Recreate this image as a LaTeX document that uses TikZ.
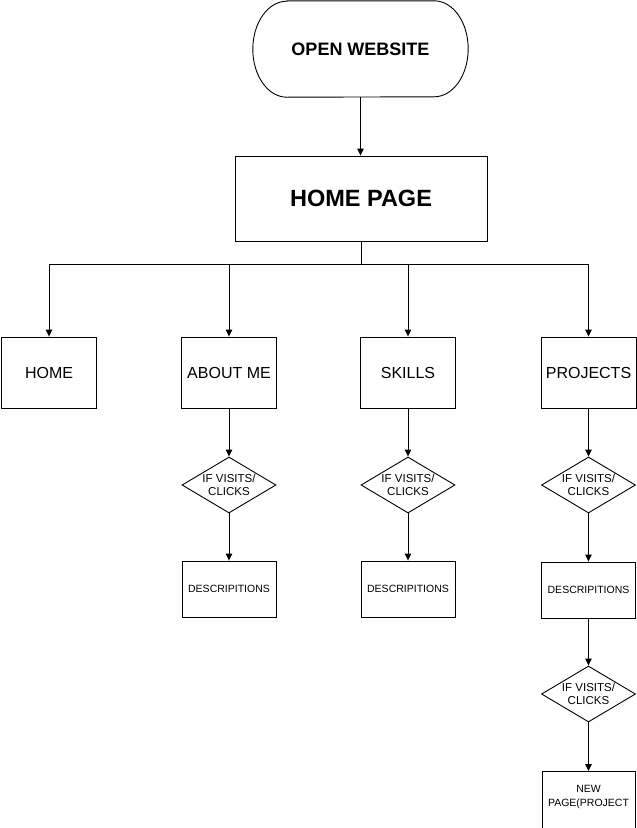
\documentclass[tikz,border=0pt]{standalone}
\usepackage{fontspec}
\setmainfont{Liberation Sans}
\usetikzlibrary{shapes.geometric,arrows.meta}
\begin{document}
\begin{tikzpicture}[x=1pt,y=-1pt,
  line/.style={line width=0.9pt},
  arr/.style={line, -{Triangle[length=7pt,width=6.5pt]}},
  pbox/.style={draw, line, rectangle, minimum width=95pt, minimum height=71pt, inner sep=0pt, font=\fontsize{16}{19}\selectfont},
  dbox/.style={draw, line, rectangle, minimum width=94pt, minimum height=56pt, inner sep=0pt, font=\fontsize{10.5}{13}\selectfont},
  dia/.style={draw, line, diamond, minimum width=94pt, minimum height=56pt, inner sep=0pt,
     label={[font=\fontsize{11.5}{13.3}\selectfont, align=center]center:IF VISITS/\\CLICKS}},
]
\useasboundingbox (0,0) rectangle (637,828);
\clip (0,0) rectangle (637,828);
\fill[white] (0,0) rectangle (637,828);

\node[minimum width=215pt, minimum height=96pt, inner sep=0pt, font=\bfseries\fontsize{18}{21}\selectfont] (start) at (360.5,49) {OPEN WEBSITE};
\draw[line] ([xshift=34pt]start.north west) -- ([xshift=-34pt]start.north east)
  arc[start angle=90, end angle=-90, x radius=34pt, y radius=48pt]
  -- ([xshift=34pt]start.south west)
  arc[start angle=270, end angle=90, x radius=34pt, y radius=48pt] -- cycle;

\node[draw, line, minimum width=252pt, minimum height=85pt, inner sep=0pt, font=\bfseries\fontsize{23.5}{28}\selectfont] (home) at (361,198.5) {HOME PAGE};
\draw[arr] (start.south) -- (start.south |- home.north);

\coordinate (bus) at (361,264);
\node[pbox] (b1) at (49,372.5) {HOME};
\node[pbox] (b2) at (229,372.5) {ABOUT ME};
\node[pbox] (b3) at (408,372.5) {SKILLS};
\node[pbox] (b4) at (588.5,372.5) {PROJECTS};
\foreach \b in {b1,b2,b3,b4} \draw[arr] (home.south) -- (bus) -| (\b.north);

\node[dia] (d2) at (229,485) {};
\node[dia] (d3) at (408,485) {};
\node[dia] (d4) at (588.5,485) {};
\node[dbox] (e2) at (229,589) {DESCRIPITIONS};
\node[dbox] (e3) at (408,589) {DESCRIPITIONS};
\node[dbox] (e4) at (588.5,590) {DESCRIPITIONS};
\node[dia] (f4) at (588.5,694) {};
\node[draw, line, rectangle, minimum width=93pt, minimum height=80pt, inner sep=0pt, anchor=north,
  label={[font=\fontsize{10.5}{14}\selectfont, align=center, anchor=north, yshift=-10.5pt]north:NEW\\PAGE(PROJECT}] (np) at (588.5,771) {};

\draw[arr] (b2.south) -- (d2.north);
\draw[arr] (b3.south) -- (d3.north);
\draw[arr] (b4.south) -- (d4.north);
\draw[arr] (d2.south) -- (e2.north);
\draw[arr] (d3.south) -- (e3.north);
\draw[arr] (d4.south) -- (e4.north);
\draw[arr] (e4.south) -- (f4.north);
\draw[arr] (f4.south) -- (np.north);
\end{tikzpicture}
\end{document}
